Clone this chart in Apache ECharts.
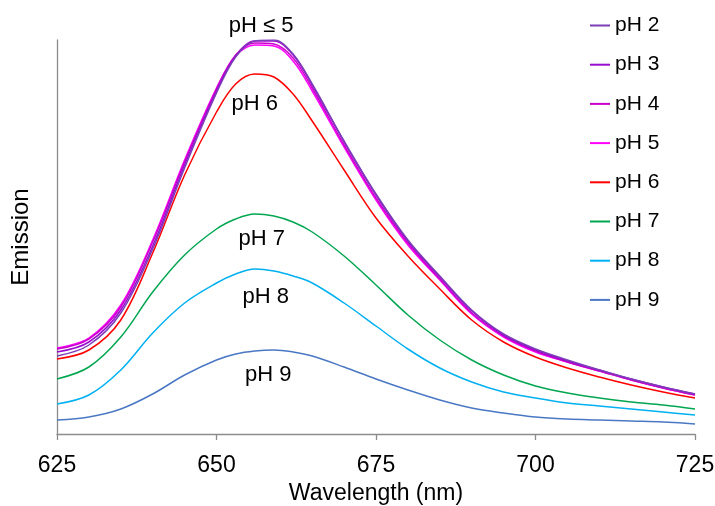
<!DOCTYPE html>
<html>
<head>
<meta charset="utf-8">
<script src="https://cdn.jsdelivr.net/npm/echarts@6/dist/echarts.min.js"></script>
<style>html,body{margin:0;padding:0;background:#fff}#c{width:715px;height:506px}</style>
</head>
<body>
<div id="c"></div>
<script>
var wavelengths = [625,630,635,640,645,650,653,656,659,662,665,670,675,680,685,690,695,700,705,710,715,720,725];
var seriesNames = ['pH 2','pH 3','pH 4','pH 5','pH 6','pH 7','pH 8','pH 9'];
var pH2 = [78,89,121,185,266,341,377,393,394,380,350,293,240,194,158,124,100,85,74,64,55,47,40];
var pH3 = [82,92,124,188,269,343,378,393,393,379,349,292,239,193,157,123,99,84,73,64,55,47,40];
var pH4 = [85,95,127,192,272,345,379,391,390,376,346,289,236,191,155,121,98,83,72,63,54,46,39];
var pH5 = [86,96,129,194,274,346,378,389,388,373,343,287,234,189,154,120,97,82,72,63,54,46,39];
var pH6 = [75,84,114,181,259,322,350,360,357,340,313,264,216,178,145,114,92,77,66,57,49,42,36];
var pH7 = [55,67,97,142,179,205,215,220,218,212,202,178,149,119,94,74,59,48,41,36,32,29,25];
var pH8 = [30,39,64,101,131,151,160,165,163,158,151,131,108,85,66,52,42,36,31,28,25,22,19];
var pH9 = [14,17,25,40,59,74,80,83,84,82,78,67,55,44,34,26,21,17,15,14,13,12,10];
var xTicks = [625,650,675,700,725];
var annotations = [
  {text:'pH \u2264 5', x:657.0, y:408},
  {text:'pH 6', x:656.0, y:330},
  {text:'pH 7', x:657.1, y:195},
  {text:'pH 8', x:657.7, y:137},
  {text:'pH 9', x:658.1, y:59}
];
var colors = ['#7E3DB8','#9A0BD0','#CC00CC','#FF00FF','#FF0000','#00A650','#00B0F0','#4A78C4'];
var allValues = [pH2,pH3,pH4,pH5,pH6,pH7,pH8,pH9];

var FONT = 'Liberation Sans, Arial, sans-serif';
var chart = echarts.init(document.getElementById('c'));
var series = seriesNames.map(function(n,i){
  return {
    name:n, type:'line', smooth:0.35, symbol:'none', showSymbol:false,
    lineStyle:{width:1.5,color:colors[i]}, itemStyle:{color:colors[i]},
    data: wavelengths.map(function(w,j){return [w, allValues[i][j]];}),
    z: 10 - i
  };
});
chart.setOption({
  animation:false,
  backgroundColor:'#fff',
  grid:{left:57,right:20,top:40,bottom:72,containLabel:false,outerBoundsMode:'none'},
  legend:{
    orient:'vertical', left:590, top:15, padding:0,
    itemWidth:20, itemHeight:2, itemGap:18.2, icon:'rect',
    textStyle:{fontFamily:FONT,fontSize:21,lineHeight:20,color:'#000'},
    data: seriesNames
  },
  xAxis:{
    type:'value', min:625, max:725, interval:25,
    name:'Wavelength (nm)', nameLocation:'middle', nameGap:46,
    nameTextStyle:{fontFamily:FONT,fontSize:23,color:'#000'},
    axisLine:{show:true,lineStyle:{color:'#8c8c8c',width:1.3}},
    axisTick:{show:true,inside:false,length:6,lineStyle:{color:'#8c8c8c',width:1.3}},
    axisLabel:{fontFamily:FONT,fontSize:23,color:'#000',margin:20,
      customValues:xTicks},
    splitLine:{show:false}
  },
  yAxis:{
    type:'value', min:0, max:394,
    name:'Emission', nameLocation:'middle', nameGap:24, nameRotate:90,
    nameTextStyle:{fontFamily:FONT,fontSize:24,color:'#000'},
    axisLine:{show:true,lineStyle:{color:'#8c8c8c',width:1.3}},
    axisTick:{show:false}, axisLabel:{show:false}, splitLine:{show:false}
  },
  series:series
});
var g = annotations.map(function(a){
  var p = chart.convertToPixel({gridIndex:0},[a.x,a.y]);
  return {type:'text', x:p[0], y:p[1], z:100,
    style:{text:a.text, fill:'#000', font:'22px '+FONT, align:'center', verticalAlign:'middle'}};
});
chart.setOption({graphic:g});
</script>
</body>
</html>
